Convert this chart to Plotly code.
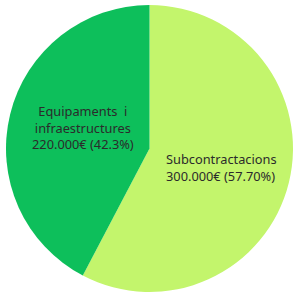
import plotly.graph_objects as go

categories = ["Subcontractacions", "Equipaments  i infraestructures"]
values = [300000, 220000]
value_labels = ["300.000€ (57.70%)", "220.000€ (42.3%)"]
colors = ["#c3f56c", "#0dbf5b"]

W = H = 294
fig = go.Figure(go.Pie(
    labels=categories,
    values=values,
    sort=False,
    direction="clockwise",
    rotation=0,
    marker=dict(colors=colors, line=dict(width=0)),
    textinfo="none",
    hoverinfo="label+value",
    domain=dict(x=[6 / W, 293 / W], y=[1 - 292 / H, 1 - 5 / H]),
    showlegend=False,
))

font = dict(family="Noto Sans, sans-serif", size=12.8, color="#2b2b2b")

def add_block(text, px, py, anchor, align):
    fig.add_annotation(text=text, x=px / W, y=1 - py / H, xref="paper", yref="paper",
                       xanchor=anchor, yanchor="middle", align=align, showarrow=False,
                       font=font, borderpad=0)

# Left slice label (centered)
add_block("Equipaments&nbsp; i<br>infraestructures<br>" + value_labels[1], 83, 127.5, "center", "center")

# Right slice label (left-aligned)
add_block(categories[0] + "<br>" + value_labels[0], 165, 167, "left", "left")

fig.update_layout(width=W, height=H, margin=dict(l=0, r=0, t=0, b=0),
                  paper_bgcolor="white", plot_bgcolor="white")
fig.write_html("out.html", config={"displayModeBar": False},
               post_script="document.body.style.margin='0';document.body.style.overflow='hidden';")
